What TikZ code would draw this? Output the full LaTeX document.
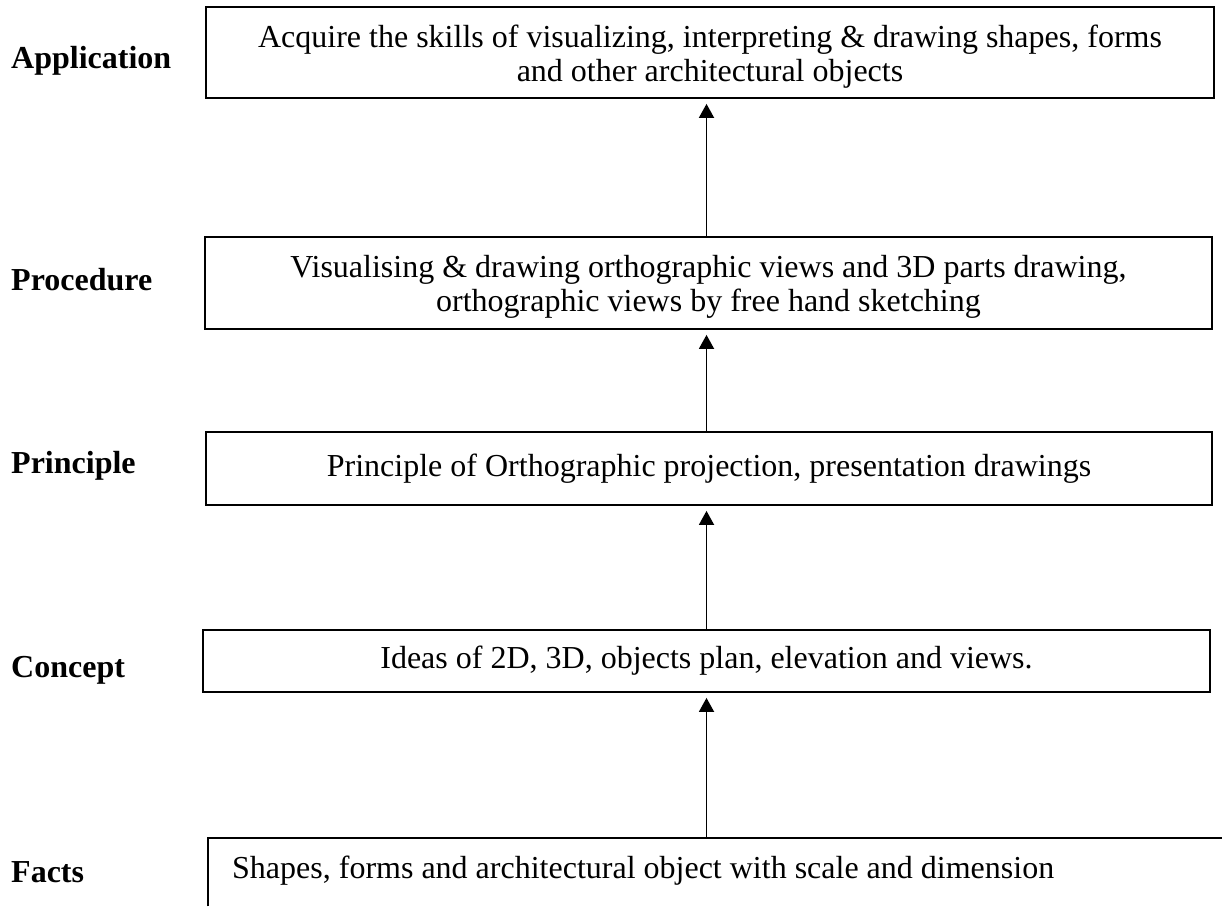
\documentclass[tikz,border=0pt]{standalone}
\usepackage{fontspec}
\setmainfont{Liberation Serif}
\usetikzlibrary{arrows.meta}
\newcommand{\firststrut}{\rule{0pt}{30pt}}
\begin{document}
\begin{tikzpicture}[x=1pt,y=-1pt,
  every node/.style={font=\fontsize{32}{34}\selectfont, inner sep=0pt},
  level/.style={anchor=base west, font=\fontsize{32}{34}\selectfont\bfseries},
  stagebox/.style={draw, line width=1.8pt, align=center},
  link/.style={line width=1.8pt, -{Triangle[length=14pt,width=15pt]}, shorten >=5pt}]
\useasboundingbox (0,0) rectangle (1222,906);

% level labels
\node[level] (lapp)  at (11,68)  {Application};
\node[level] (lproc) at (11,290) {Procedure};
\node[level] (lprin) at (11,473) {Principle};
\node[level] (lcon)  at (11,677) {Concept};
\node[level] (lfac)  at (11,882) {Facts};

% stage boxes
\node[stagebox, minimum width=1008pt, minimum height=91pt] (app) at (710,52.5)
  {\firststrut Acquire the skills of visualizing, interpreting \& drawing shapes, forms\\and other architectural objects};
\node[stagebox, minimum width=1007pt, minimum height=92pt] (proc) at (708.5,283)
  {\firststrut Visualising \& drawing orthographic views and 3D parts drawing,\\orthographic views by free hand sketching};
\node[stagebox, minimum width=1006pt, minimum height=73pt] (prin) at (709,468.5)
  {Principle of Orthographic projection, presentation drawings};
\node[stagebox, minimum width=1007pt, minimum height=62pt] (con) at (706.5,661)
  {Ideas of 2D, 3D, objects plan, elevation and views.};

% bottom stage: frame open at right and bottom
\node[anchor=north west, minimum width=1014pt, minimum height=68pt] (fac) at (208,838) {};
\draw[line width=1.8pt] (fac.south west) -- (fac.north west) -- (fac.north east);
\node[anchor=base west] (factxt) at (232,878)
  {Shapes, forms and architectural object with scale and dimension};

% upward links
\draw[link] (con.south |- fac.north) -- (con.south);
\draw[link] (con.north) -- (con.north |- prin.south);
\draw[link] (con.north |- prin.north) -- (con.north |- proc.south);
\draw[link] (con.north |- proc.north) -- (con.north |- app.south);
\end{tikzpicture}
\end{document}
